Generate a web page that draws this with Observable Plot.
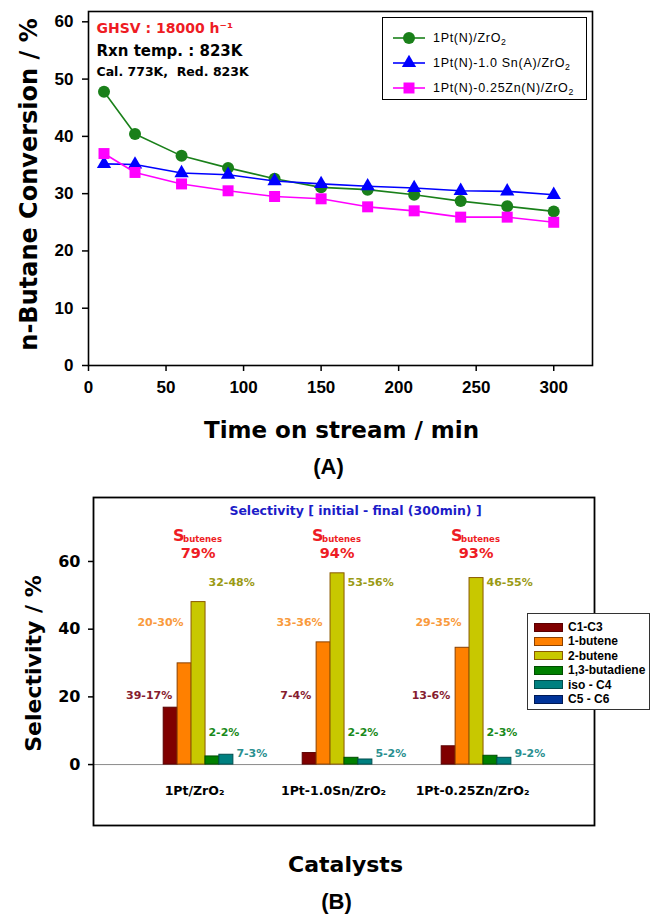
<!DOCTYPE html>
<html><head><meta charset="utf-8">
<script src="https://cdn.jsdelivr.net/npm/d3@7"></script>
<script src="https://cdn.jsdelivr.net/npm/@observablehq/plot@0.6"></script>
<style>
body{margin:0;background:#fff;}
#wrap{position:relative;width:658px;height:920px;overflow:hidden;background:#fff;}
#wrap > svg{position:absolute;left:0;}
.legend{position:absolute;background:#fff;box-sizing:border-box;}
.legA{border:1px solid #000;font-family:"Liberation Sans",Arial,sans-serif;font-size:12.5px;letter-spacing:0.7px;color:#000;}
.legA .item{position:absolute;left:8px;height:16px;display:flex;align-items:center;white-space:nowrap;}
.legA sub,.legB sub{font-size:70%;vertical-align:-3px;line-height:0;}
.legB{border:1px solid #333;font-family:"Liberation Sans",Arial,sans-serif;font-size:12px;font-weight:bold;color:#000;}
.legB .item{position:absolute;left:6px;height:12px;display:flex;align-items:center;white-space:nowrap;}
.legB .sw{width:27px;height:7px;border:1px solid #5a2a00;margin-right:5px;}
</style></head><body><div id="wrap"></div>
<script>
// ---------- data (A) ----------
const times = [10, 30, 60, 90, 120, 150, 180, 210, 240, 270, 300];
const seriesNames = ["1Pt(N)/ZrO2", "1Pt(N)-1.0 Sn(A)/ZrO2", "1Pt(N)-0.25Zn(N)/ZrO2"];
const convPt   = [47.8, 40.4, 36.6, 34.5, 32.6, 31.1, 30.7, 29.8, 28.7, 27.8, 26.9];
const convPtSn = [35.2, 35.1, 33.6, 33.3, 32.2, 31.7, 31.3, 31.0, 30.5, 30.4, 29.8];
const convPtZn = [37.0, 33.7, 31.7, 30.5, 29.5, 29.1, 27.7, 27.0, 25.9, 25.9, 25.0];
const yTicksA = [0, 10, 20, 30, 40, 50, 60];
const xTicksA = [0, 50, 100, 150, 200, 250, 300];
const notesA = ["GHSV : 18000 h⁻¹", "Rxn temp. : 823K", "Cal. 773K,\u00a0 Red. 823K"];

// ---------- data (B) ----------
const catalysts = ["1Pt/ZrO₂", "1Pt-1.0Sn/ZrO₂", "1Pt-0.25Zn/ZrO₂"];
const species = ["C1-C3", "1-butene", "2-butene", "1,3-butadiene", "iso - C4", "C5 - C6"];
const selPt   = [16.8, 29.9, 48.0, 2.4, 2.9, 0];
const selPtSn = [3.4, 36.1, 56.5, 2.0, 1.5, 0];
const selPtZn = [5.4, 34.5, 55.1, 2.6, 2.0, 0];
const rangeLabelsPt   = ["39-17%", "20-30%", "32-48%", "2-2%", "7-3%", ""];
const rangeLabelsPtSn = ["7-4%", "33-36%", "53-56%", "2-2%", "5-2%", ""];
const rangeLabelsPtZn = ["13-6%", "29-35%", "46-55%", "2-3%", "9-2%", ""];
const butenesSel = ["79%", "94%", "93%"];
const yTicksB = [0, 20, 40, 60];
const titleB = "Selectivity [ initial - final (300min) ]";

// ---------- styles ----------
const seriesColors = ["#1a801a", "#0000ff", "#ff00ff"];
const seriesSymbols = ["circle", "triangle", "square"];
const seriesR = [6, 5.3, 6.2];
const speciesColors = ["#800000", "#ff8000", "#c8c800", "#008000", "#008080", "#003399"];
const speciesStroke = ["#5a0000", "#8a4000", "#8a5a00", "#004d00", "#004d4d", "#001a55"];
const labelColors = ["#861c2f", "#f99a3c", "#9a9a14", "#1a8a1a", "#2a9090", "#003399"];
const labelDy = [-130, -203, -243, -93, -72, 0];
const labelDx = [1.5, -1, 10, -4, 10, 0];
const labelAnchor = ["end", "end", "start", "start", "start", "start"];
const ARIAL = "Liberation Sans, Arial, sans-serif";
const VERD = "DejaVu Sans, Verdana, sans-serif";
const MID = {lineAnchor: "middle"};

const wrap = document.getElementById("wrap");

// ---------- chart A ----------
const convSeries = [convPt, convPtSn, convPtZn];
const convRows = convSeries.flatMap((vals, s) => vals.map((v, i) => ({series: seriesNames[s], time: times[i], value: v})));

const marksA = [
  Plot.frame({stroke: "#000", strokeWidth: 1.6}),
  Plot.axisY({ticks: yTicksA, tickSize: 6, tickPadding: 9, fontSize: 17, fontWeight: "bold", fontFamily: ARIAL, strokeWidth: 1.5, label: null}),
  Plot.axisX({ticks: xTicksA, tickSize: 6, tickPadding: 9, fontSize: 17, fontWeight: "bold", fontFamily: ARIAL, strokeWidth: 1.5, label: null}),
];
seriesNames.forEach((name, s) => {
  const rows = convRows.filter(d => d.series === name);
  marksA.push(Plot.line(rows, {x: "time", y: "value", stroke: seriesColors[s], strokeWidth: 1.6}));
  marksA.push(Plot.dot(rows, {x: "time", y: "value", fill: seriesColors[s], symbol: seriesSymbols[s], r: seriesR[s]}));
});
marksA.push(
  Plot.text(["n-Butane Conversion / %"], {...MID, frameAnchor: "left", textAnchor: "middle", dx: -59.5, dy: -4, rotate: -90, fontSize: 24, fontWeight: "bold", fontFamily: VERD, fill: "#000"}),
  Plot.text(["Time on stream / min"], {...MID, frameAnchor: "bottom", dy: 65, dx: 1, fontSize: 23, fontWeight: "bold", fontFamily: VERD, fill: "#000"}),
  Plot.text(["(A)"], {...MID, frameAnchor: "bottom", dy: 101, dx: -12, fontSize: 22, fontWeight: "bold", fontFamily: ARIAL, fill: "#000"}),
  Plot.text([notesA[0]], {...MID, frameAnchor: "top-left", dx: 8, dy: 17.5, textAnchor: "start", fontSize: 14, fontWeight: "bold", fontFamily: VERD, fill: "#ee1c24"}),
  Plot.text([notesA[1]], {...MID, frameAnchor: "top-left", dx: 8, dy: 40, textAnchor: "start", fontSize: 15, fontWeight: "bold", fontFamily: VERD, fill: "#000"}),
  Plot.text([notesA[2]], {...MID, frameAnchor: "top-left", dx: 8, dy: 60.5, textAnchor: "start", fontSize: 12.5, fontWeight: "bold", fontFamily: VERD, fill: "#000"})
);

const plotA = Plot.plot({
  width: 658, height: 475,
  marginLeft: 88, marginRight: 66, marginTop: 11, marginBottom: 110,
  style: {background: "transparent", overflow: "visible"},
  x: {domain: [0, 325]},
  y: {domain: [0, 61.8]},
  marks: marksA
});
plotA.style.top = "0px";
wrap.append(plotA);

// legend A
const legA = document.createElement("div");
legA.className = "legend legA";
legA.style.cssText = "left:382px;top:17px;width:205px;height:83px;";
seriesNames.forEach((name, s) => {
  const it = document.createElement("div");
  it.className = "item";
  it.style.top = (12 + 25 * s) + "px";
  const sym = [d3.symbolCircle, d3.symbolTriangle, d3.symbolSquare][s];
  const path = d3.symbol(sym, Math.PI * seriesR[s] * seriesR[s])();
  it.innerHTML = `<svg width="36" height="16" style="margin-right:6px;overflow:visible"><line x1="2" x2="34" y1="8" y2="8" stroke="${seriesColors[s]}" stroke-width="1.6"/><path d="${path}" transform="translate(18,8)" fill="${seriesColors[s]}"/></svg><span>${name.replace(/O2$/, "O<sub>2</sub>")}</span>`;
  legA.append(it);
});
wrap.append(legA);

// ---------- chart B ----------
const selSeries = [selPt, selPtSn, selPtZn];
const labelSeries = [rangeLabelsPt, rangeLabelsPtSn, rangeLabelsPtZn];
const selRows = selSeries.flatMap((vals, c) => vals.map((v, i) => ({catalyst: catalysts[c], species: species[i], value: v, label: labelSeries[c][i]})));

const W = 658, mLB = 93, mRB = 64;
const padIn = 0.9, padOut = 0.75;
const stepB = (W - mLB - mRB) / (catalysts.length - padIn + 2 * padOut);
const bw = stepB * (1 - padIn);

const marksB = [
  Plot.ruleY([0], {stroke: "#8a8a8a", strokeWidth: 1}),
  Plot.frame({stroke: "#000", strokeWidth: 1.8}),
  Plot.axisY({ticks: yTicksB, tickSize: 5, tickPadding: 8, fontSize: 16, fontWeight: "bold", fontFamily: VERD, strokeWidth: 1.5, label: null}),
  Plot.axisX({anchor: "bottom", tickSize: 0, tickPadding: 0, dy: -39, dx: -11, fontSize: 12.5, fontWeight: "bold", fontFamily: VERD, label: null}),
];
species.forEach((sp, i) => {
  const rows = selRows.filter(d => d.species === sp);
  marksB.push(Plot.barY(rows, {x: "catalyst", y: "value", fill: speciesColors[i], stroke: speciesStroke[i], strokeWidth: 1, dx: (i - 2.5) * bw}));
});
species.forEach((sp, i) => {
  const rows = selRows.filter(d => d.species === sp && d.label);
  marksB.push(Plot.text(rows, {...MID, x: "catalyst", text: "label", frameAnchor: "bottom", dy: labelDy[i], dx: (i - 2.5) * bw + labelDx[i], textAnchor: labelAnchor[i], fill: labelColors[i], fontSize: 11, fontWeight: "bold", fontFamily: VERD}));
});
const selSummary = catalysts.map((c, i) => ({catalyst: c, pct: butenesSel[i]}));
marksB.push(
  Plot.text(selSummary, {...MID, x: "catalyst", text: () => "S", frameAnchor: "top", dy: 38, dx: -32.6, textAnchor: "start", fill: "#ee1c24", fontSize: 16, fontWeight: "bold", fontFamily: VERD}),
  Plot.text(selSummary, {...MID, x: "catalyst", text: () => "butenes", frameAnchor: "top", dy: 42, dx: -22.4, textAnchor: "start", fill: "#ee1c24", fontSize: 8.5, fontWeight: "bold", fontFamily: VERD}),
  Plot.text(selSummary, {...MID, x: "catalyst", text: "pct", frameAnchor: "top", dy: 55.5, dx: -7.4, fill: "#ee1c24", fontSize: 14.5, fontWeight: "bold", fontFamily: VERD}),
  Plot.text([titleB], {...MID, frameAnchor: "top", dy: 13, dx: 11.5, fill: "#1c1cc8", fontSize: 12.5, fontWeight: "bold", fontFamily: VERD}),
  Plot.text(["Selectivity / %"], {...MID, frameAnchor: "left", textAnchor: "middle", dx: -59.5, dy: 2, rotate: -90, fontSize: 22, fontWeight: "bold", fontFamily: VERD, fill: "#000"}),
  Plot.text(["Catalysts"], {...MID, frameAnchor: "bottom", dy: 39.5, dx: 1.5, fontSize: 22, fontWeight: "bold", fontFamily: VERD, fill: "#000"}),
  Plot.text(["(B)"], {...MID, frameAnchor: "bottom", dy: 76.7, dx: -7.5, fontSize: 22, fontWeight: "bold", fontFamily: ARIAL, fill: "#000"})
);

const plotB = Plot.plot({
  width: W, height: 445,
  marginLeft: mLB, marginRight: mRB, marginTop: 22, marginBottom: 95,
  style: {background: "transparent", overflow: "visible"},
  x: {domain: catalysts, paddingInner: padIn, paddingOuter: padOut},
  y: {domain: [-18, 78.9]},
  marks: marksB
});
plotB.style.top = "475px";
wrap.append(plotB);

// legend B
const legB = document.createElement("div");
legB.className = "legend legB";
legB.style.cssText = "left:527px;top:613px;width:123px;height:97px;";
species.forEach((sp, i) => {
  const it = document.createElement("div");
  it.className = "item";
  it.style.top = (7 + 14.4 * i) + "px";
  it.innerHTML = `<div class="sw" style="background:${speciesColors[i]};border-color:${speciesStroke[i]}"></div><span>${sp}</span>`;
  legB.append(it);
});
wrap.append(legB);
</script></body></html>
